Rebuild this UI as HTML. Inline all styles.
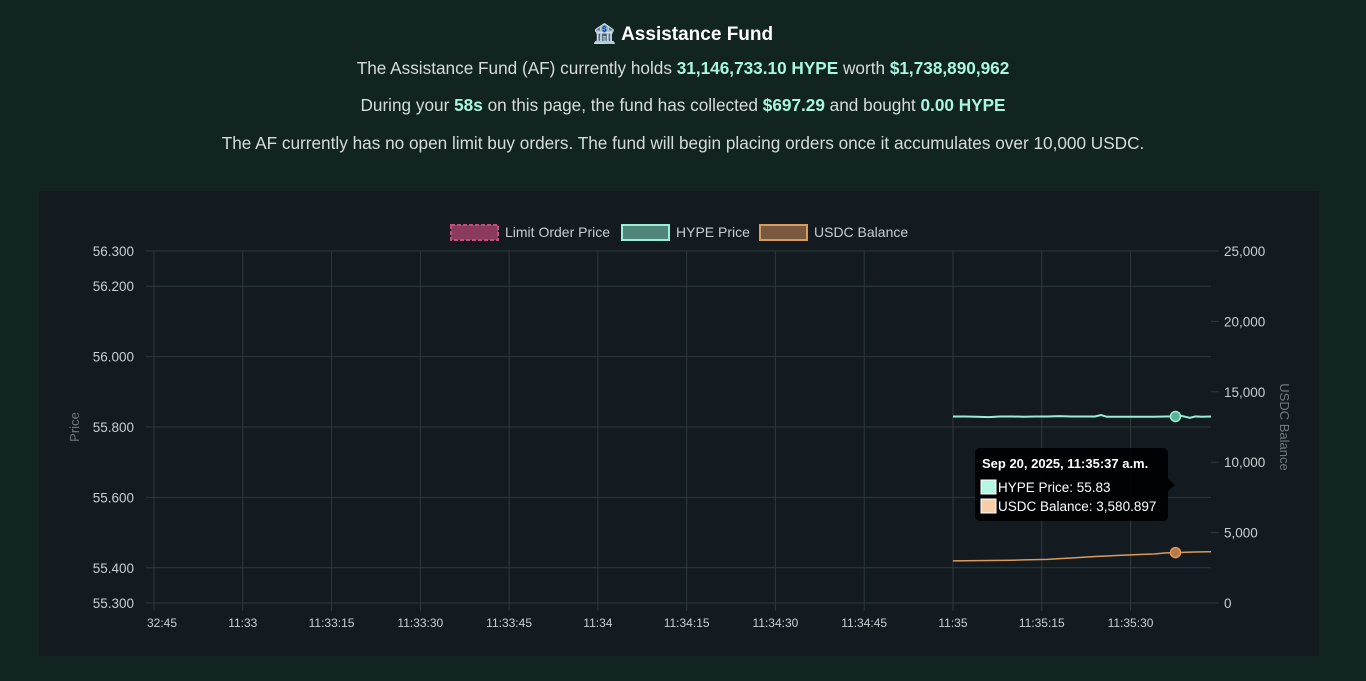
<!DOCTYPE html>
<html><head><meta charset="utf-8"><style>
body{margin:0;width:1366px;height:681px;background:#11241f;font-family:"Liberation Sans","Noto Sans CJK SC",sans-serif;color:#d6dcd9;overflow:hidden}
.t{position:absolute;left:0;width:1366px;text-align:center}
b{color:#a8f5e0}
</style></head><body>
<div class="t" style="top:22px;font-size:19px;font-weight:bold;color:#fff">🏦 Assistance Fund</div>
<div class="t" style="top:58px;font-size:17.2px">The Assistance Fund (AF) currently holds <b>31,146,733.10 HYPE</b> worth <b>$1,738,890,962</b></div>
<div class="t" style="top:95px;font-size:17.2px">During your <b>58s</b> on this page, the fund has collected <b>$697.29</b> and bought <b>0.00 HYPE</b></div>
<div class="t" style="top:133px;font-size:17.2px">The AF currently has no open limit buy orders. The fund will begin placing orders once it accumulates over 10,000 USDC.</div>
<div style="position:absolute;left:39px;top:191px;width:1280px;height:465px;background:#131b20"></div>
<svg id="c" width="1366" height="681" style="position:absolute;left:0;top:0" font-family="Liberation Sans, sans-serif"></svg>
<script>
const leftTicks=[55.3,55.4,55.6,55.8,56.0,56.2,56.3];
const rightTicks=[0,5000,10000,15000,20000,25000];
const xTickLabels=["32:45","11:33","11:33:15","11:33:30","11:33:45","11:34","11:34:15","11:34:30","11:34:45","11:35","11:35:15","11:35:30"];
// seconds since 11:35:00
const times=[0,2,4,6,8,10,12,14,16,18,20,22,24,25,26,28,30,32,34,36,37.6,38.5,39.3,40,41,42,43.6];
const hype=[55.830,55.830,55.829,55.828,55.830,55.830,55.829,55.830,55.830,55.831,55.830,55.830,55.830,55.834,55.829,55.829,55.829,55.829,55.829,55.830,55.830,55.832,55.829,55.826,55.830,55.829,55.830];
const usdc=[2990,3000,3010,3020,3030,3040,3060,3080,3100,3150,3200,3250,3300,3320,3340,3380,3420,3450,3480,3560,3581,3590,3600,3610,3620,3630,3640];
const L=154,R=1211,T=251,B=603,X0=-135,X1=43.6;
const X=s=>L+(s-X0)/(X1-X0)*(R-L);
const YL=v=>B-(v-55.3)/1.0*(B-T);
const YR=v=>B-v/25000*(B-T);
const svg=document.getElementById('c');const NS="http://www.w3.org/2000/svg";
function mk(t,a,txt){const e=document.createElementNS(NS,t);for(const k in a)e.setAttribute(k,a[k]);if(txt!=null)e.textContent=txt;svg.appendChild(e);return e;}
leftTicks.forEach(v=>{const y=YL(v);
const g=mk('line',{x1:L-8,x2:R,y1:y,y2:y,stroke:'#2d3a3a','stroke-width':1});
const t=mk('text',{x:134,y:y+5,'text-anchor':'end','font-size':13.5,fill:'#c8cdd0'},v.toFixed(3));});
rightTicks.forEach(v=>{const y=YR(v);
const g=mk('line',{x1:R,x2:R+8,y1:y,y2:y,stroke:'#2d3a3a'});
const t=mk('text',{x:1224,y:y+5,'font-size':13.5,fill:'#c8cdd0'},v.toLocaleString('en-US'));});
xTickLabels.forEach((lab,i)=>{const x=X(-135+15*i);
const g=mk('line',{x1:x,x2:x,y1:T,y2:B+8,stroke:'#2d3a3a'});
const t=mk('text',{x:x+(i==0?8:0),y:627,'text-anchor':'middle','font-size':12,fill:'#c8cdd0'},lab);});
let a=mk('text',{x:79,y:427,'text-anchor':'middle','font-size':13,fill:'#6f7a7d',transform:'rotate(-90 79 427)'},'Price');
a=mk('text',{x:1280,y:427,'text-anchor':'middle','font-size':13,fill:'#6f7a7d',transform:'rotate(90 1280 427)'},'USDC Balance');
let p=mk('polyline',{points:times.map((s,i)=>X(s)+','+YL(hype[i])).join(' '),fill:'none',stroke:'#97f0d6','stroke-width':2});
p=mk('polyline',{points:times.map((s,i)=>X(s)+','+YR(usdc[i])).join(' '),fill:'none',stroke:'#d99a5e','stroke-width':1.5});
const hi=20;
let d=mk('circle',{cx:X(times[hi]),cy:YL(hype[hi]),r:5,fill:'#5fae98',stroke:'#97f0d6','stroke-width':1.5});
d=mk('circle',{cx:X(times[hi]),cy:YR(usdc[hi]),r:5,fill:'#b97a45',stroke:'#d99a5e','stroke-width':1.5});
const leg=[['Limit Order Price','#8a3a5c','#c44d7a',451],['HYPE Price','#4f857a','#97f0d6',622],['USDC Balance','#7a5a3e','#d99a5e',760]];
leg.forEach(([n,f,s,x])=>{const r=mk('rect',{x:x,y:225,width:47,height:15,fill:f,stroke:s,'stroke-width':2,'stroke-dasharray':n.startsWith('Limit')?'4 2':'none'});
const t=mk('text',{x:x+54,y:237,'font-size':14,fill:'#c8cdd0'},n);});
const g=mk('g',{});
mk('rect',{x:975,y:448,width:193,height:73,rx:5,fill:'#000','fill-opacity':0.9});
mk('polygon',{points:'1168,479 1175,485 1168,491',fill:'#000'});
mk('text',{x:982,y:468,'font-size':13,'font-weight':'bold',fill:'#fff'},'Sep 20, 2025, 11:35:37 a.m.');
mk('rect',{x:981,y:480,width:15,height:14,fill:'#b6f7e4',stroke:'#fff','stroke-width':1});
mk('text',{x:998,y:492,'font-size':13.5,fill:'#fff'},'HYPE Price: 55.83');
mk('rect',{x:981,y:499,width:15,height:14,fill:'#f5cfaa',stroke:'#fff','stroke-width':1});
mk('text',{x:998,y:511,'font-size':13.5,fill:'#fff'},'USDC Balance: 3,580.897');
</script>
</body></html>
